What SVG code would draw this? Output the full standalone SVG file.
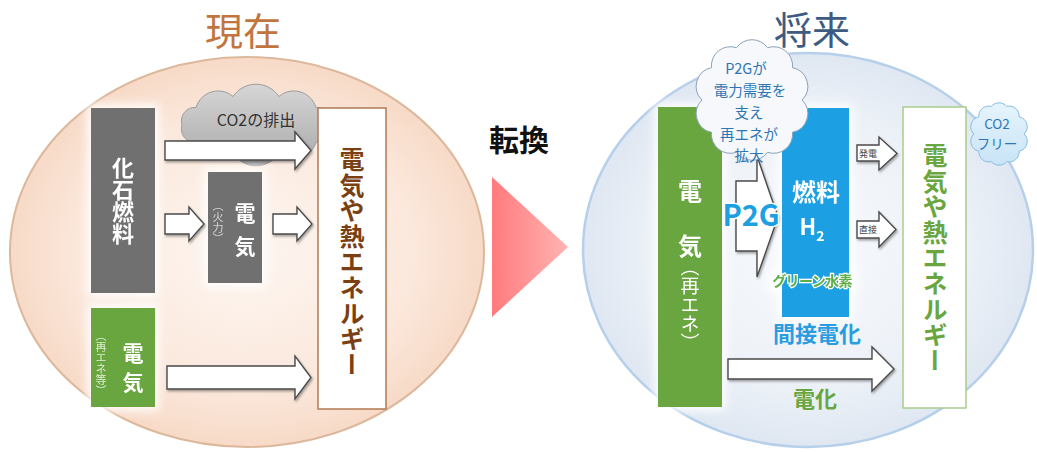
<svg xmlns="http://www.w3.org/2000/svg" width="1037" height="453" viewBox="0 0 1037 453">
<style>
text{font-family:"Noto Sans CJK JP","Noto Sans",sans-serif;}
.v{writing-mode:vertical-rl;}
.b{font-weight:bold;}
.arrow{fill:#ffffff;stroke:#4a4a4a;stroke-width:1.4;stroke-linejoin:miter;filter:url(#shadow);}
.cl{font-size:14.5px;fill:#2e75b6;text-anchor:middle;}
.cf{font-size:13.5px;fill:#2e75b6;text-anchor:middle;}
</style>
<defs>
<radialGradient id="gL" cx="0.5" cy="0.5" r="0.5">
<stop offset="0" stop-color="#fdf6f1"/>
<stop offset="0.7" stop-color="#fbe8dc"/>
<stop offset="1" stop-color="#f7dac7"/>
</radialGradient>
<radialGradient id="gR" cx="0.5" cy="0.5" r="0.5">
<stop offset="0" stop-color="#f8fafd"/>
<stop offset="0.7" stop-color="#ecf1f7"/>
<stop offset="1" stop-color="#dfe7f2"/>
</radialGradient>
<linearGradient id="gTri" x1="0" y1="0" x2="1" y2="0">
<stop offset="0" stop-color="#ff7a7c"/>
<stop offset="1" stop-color="#ffb4b4"/>
</linearGradient>
<linearGradient id="gGray" x1="0" y1="0" x2="0" y2="1">
<stop offset="0" stop-color="#d6d6d6"/>
<stop offset="1" stop-color="#a9a9a9"/>
</linearGradient>
<linearGradient id="gBlueCloud" x1="0" y1="0" x2="0" y2="1">
<stop offset="0" stop-color="#e6f4fc"/>
<stop offset="1" stop-color="#c8e4f6"/>
</linearGradient>
<filter id="shadow" x="-20%" y="-20%" width="150%" height="160%">
<feDropShadow dx="1.2" dy="1.8" stdDeviation="1.2" flood-color="#000" flood-opacity="0.35"/>
</filter>
<filter id="glow" x="-30%" y="-15%" width="160%" height="130%">
<feMorphology in="SourceAlpha" operator="dilate" radius="4" result="d"/>
<feGaussianBlur in="d" stdDeviation="5" result="b"/>
<feFlood flood-color="#ffffff" flood-opacity="0.9"/>
<feComposite in2="b" operator="in" result="g"/>
<feMerge><feMergeNode in="g"/><feMergeNode in="SourceGraphic"/></feMerge>
</filter>
</defs>

<rect width="1037" height="453" fill="#ffffff"/>

<!-- backgrounds -->
<g id="present-area">
<ellipse cx="247" cy="252" rx="237" ry="195" fill="url(#gL)" stroke="#dcb89c" stroke-width="2"/>
<text x="243" y="45" font-size="38" fill="#c2743e" text-anchor="middle">現在</text>
</g>
<g id="future-area">
<ellipse cx="808" cy="250" rx="225" ry="197" fill="url(#gR)" stroke="#b6cfea" stroke-width="2.5"/>
<text x="812" y="44" font-size="38" fill="#3d5a82" text-anchor="middle">将来</text>
</g>

<g id="co2-cloud">
<path d="M330,125 A13.6,13.6 0 0 1 315.9,142.6 A23,23 0 0 1 278.9,153.5 A27.5,27.5 0 0 1 233.1,153.5 A23,23 0 0 1 196.1,142.6 A13.6,13.6 0 0 1 182,125 A13.6,13.6 0 0 1 196.1,107.4 A23,23 0 0 1 233.1,96.5 A27.5,27.5 0 0 1 278.9,96.5 A23,23 0 0 1 315.9,107.4 A13.6,13.6 0 0 1 330,125 Z" fill="url(#gGray)" stroke="#9c9c9c" stroke-width="1"/>
<text x="256" y="126" font-size="16" fill="#333333" text-anchor="middle">CO2の排出</text>
</g>

<g id="fossil-fuel" filter="url(#glow)">
<rect x="91" y="108" width="64" height="185" fill="#6f6f6f"/>
<text class="v b" x="123" y="157" font-size="22" fill="#ffffff">化石燃料</text>
</g>

<g id="thermal-power" filter="url(#glow)">
<rect x="208" y="172" width="54" height="111" fill="#6f6f6f"/>
<text class="b" x="245" y="221" font-size="21" fill="#ffffff" text-anchor="middle">電</text>
<text class="b" x="245" y="254" font-size="21" fill="#ffffff" text-anchor="middle">気</text>
<text class="v" x="218" y="200" font-size="11" fill="#d4d4d4">（火力）</text>
</g>

<g id="renewable-present" filter="url(#glow)">
<rect x="91" y="308" width="64" height="99" fill="#6aa640"/>
<text class="b" x="133" y="361" font-size="21" fill="#ffffff" text-anchor="middle">電</text>
<text class="b" x="133" y="390" font-size="21" fill="#ffffff" text-anchor="middle">気</text>
<text class="v" x="101" y="330" font-size="11" fill="#dcefcf">（再エネ等）</text>
</g>

<g id="energy-present">
<rect x="318" y="108" width="68" height="301" fill="#ffffff" stroke="#b07a55" stroke-width="1.5"/>
<text class="v b" x="352" y="147" font-size="25" fill="#7b3f14" letter-spacing="0.6">電気や熱エネルギー</text>
</g>

<g id="transition">
<text class="b" x="519" y="151" font-size="30" fill="#111111" text-anchor="middle">転換</text>
<polygon points="492,177 568,247 492,317" fill="url(#gTri)"/>
</g>

<g id="renewable-future" filter="url(#glow)">
<rect x="658" y="107" width="64" height="300" fill="#6aa640"/>
<text class="b" x="690" y="200" font-size="24" fill="#ffffff" text-anchor="middle">電</text>
<text class="b" x="690" y="255" font-size="24" fill="#ffffff" text-anchor="middle">気</text>
<text class="v" x="690" y="257" font-size="19" fill="#ffffff">（再エネ）</text>
</g>

<g id="hydrogen" filter="url(#glow)">
<rect x="782" y="108" width="67" height="209" fill="#1ca0e3"/>
<text class="b" x="816" y="201" font-size="24" fill="#ffffff" text-anchor="middle">燃料</text>
<text class="b" x="812" y="235" font-size="22" fill="#ffffff" text-anchor="middle">H<tspan font-size="14" dy="6">2</tspan></text>
<text class="b" x="812" y="286" font-size="14" fill="#5cae45" stroke="#ffffff" stroke-width="2.5" paint-order="stroke" text-anchor="middle" letter-spacing="-0.6">グリーン水素</text>
</g>

<g id="energy-future">
<rect x="903" y="107" width="63" height="301" fill="#ffffff" stroke="#a8cd8a" stroke-width="1.5"/>
<text class="v b" x="935" y="143" font-size="25" fill="#6aa640" letter-spacing="0.6">電気や熱エネルギー</text>
</g>

<g id="connectors">
<polygon class="arrow" points="165,141 295,141 295,132 311,150.5 295,169 295,160 165,160"/>
<polygon class="arrow" points="165,214 189,214 189,207 204,224 189,241 189,234 165,234"/>
<polygon class="arrow" points="273,214 297,214 297,207 312,224 297,241 297,234 273,234"/>
<polygon class="arrow" points="167,366 295,366 295,356 311,377.5 295,399 295,389 167,389"/>
<polygon class="arrow" points="736,181 757,181 757,156 778,217 757,277 757,251 736,251"/>
<polygon class="arrow" points="857,145 879,145 879,137 897,153.5 879,170 879,161 857,161"/>
<polygon class="arrow" points="857,221 879,221 879,212 896,229.5 879,247 879,238 857,238"/>
<polygon class="arrow" points="728,359 872,359 872,347 894,369 872,391 872,379 728,379"/>
<text x="868" y="157" font-size="9" fill="#444444" text-anchor="middle">発電</text>
<text x="868" y="233" font-size="9" fill="#444444" text-anchor="middle">直接</text>
<text class="b" x="751" y="226" font-size="29" fill="#1ca0e3" stroke="#ffffff" stroke-width="3" paint-order="stroke" text-anchor="middle">P2G</text>
<text class="b" x="817" y="342" font-size="22" fill="#2a9de0" text-anchor="middle">間接電化</text>
<text class="b" x="815" y="407" font-size="22" fill="#6aa640" text-anchor="middle">電化</text>
</g>

<g id="p2g-cloud">
<path d="M802,100 A19,19 0 0 1 792.5,132.3 A19,19 0 0 1 767.5,152.3 A19,19 0 0 1 736.5,152.3 A19,19 0 0 1 711.5,132.3 A19,19 0 0 1 702,100 A19,19 0 0 1 711.5,67.7 A19,19 0 0 1 736.5,47.7 A19,19 0 0 1 767.5,47.7 A19,19 0 0 1 792.5,67.7 A19,19 0 0 1 802,100 Z" fill="#f6f8fb" stroke="#8ba2bb" stroke-width="1"/>
<text class="cl" x="746" y="74">P2Gが</text>
<text class="cl" x="750" y="96">電力需要を</text>
<text class="cl" x="749" y="118">支え</text>
<text class="cl" x="749" y="140">再エネが</text>
<text class="cl" x="749" y="161">拡大</text>
</g>

<g id="co2-free-cloud">
<path d="M1024,134 A10,10 0 0 1 1019.2,151.1 A10,10 0 0 1 1006.7,161.6 A10,10 0 0 1 991.3,161.6 A10,10 0 0 1 978.8,151.1 A10,10 0 0 1 974,134 A10,10 0 0 1 978.8,116.9 A10,10 0 0 1 991.3,106.4 A10,10 0 0 1 1006.7,106.4 A10,10 0 0 1 1019.2,116.9 A10,10 0 0 1 1024,134 Z" fill="url(#gBlueCloud)" stroke="#86bde3" stroke-width="1"/>
<text class="cf" x="997" y="129">CO2</text>
<text class="cf" x="997" y="149">フリー</text>
</g>
</svg>
